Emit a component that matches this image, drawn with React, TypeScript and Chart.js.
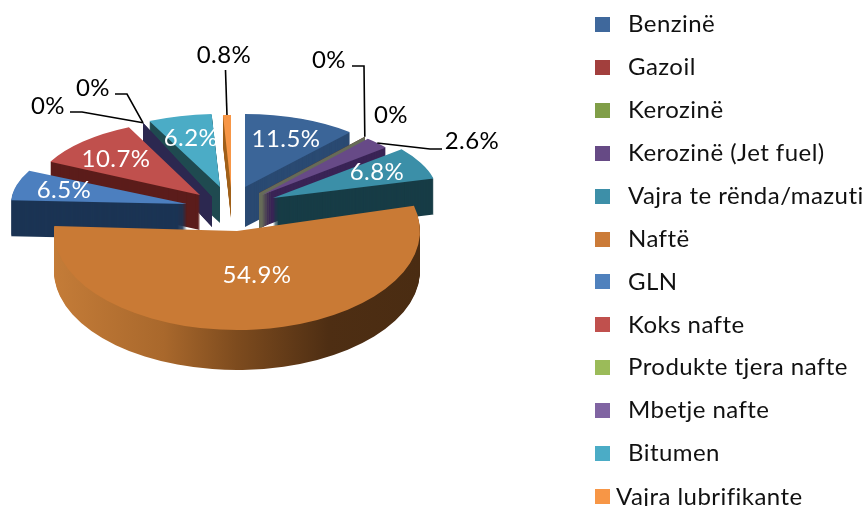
import React, { useEffect, useRef } from "react";
import { Chart, registerables } from "chart.js";

Chart.register(...registerables);

const categories = ["Benzinë", "Gazoil", "Kerozinë", "Kerozinë (Jet fuel)", "Vajra te rënda/mazuti", "Naftë", "GLN", "Koks nafte", "Produkte tjera nafte", "Mbetje nafte", "Bitumen", "Vajra lubrifikante"];
const shares = [11.5, 0, 0, 2.6, 6.8, 54.9, 6.5, 10.7, 0, 0, 6.2, 0.8];
const topColors = ["#3b6598", "#a03f3c", "#7f9d47", "#674a87", "#3b8fa8", "#c97a35", "#4c7fbf", "#c0504d", "#9bbb59", "#8064a2", "#4bacc6", "#f79646"];
const legendColors = ["#3f689c", "#a23f3d", "#809e48", "#664a85", "#3d8fa8", "#cb7b38", "#4f81bd", "#c0504d", "#9bbb59", "#8064a2", "#4bacc6", "#f79646"];
const wallColors = ["#2a4a72", "#5c1d1b", "#666b58", "#3a2456", "#173c46", "#000", "#1b3454", "#5c1d1b", "#2c2850", "#2c2850", "#1f4a50", "#a0601c"];

// 3D projection per slice: tip x, tip y, x radius, y radius, wall depth
const projection = [
  [245, 187, 159, 73, 40],
  [259, 193, 160, 75, 36],
  [259, 193, 160, 75, 36],
  [262, 195, 160, 75, 32],
  [273, 198, 166, 77, 36],
  [237, 231, 183, 99, 40],
  [187, 204, 176, 75, 36],
  [200, 195, 167, 75, 35],
  [212, 197, 162, 82, 30],
  [212, 197, 162, 82, 30],
  [220, 187, 166, 73, 36],
  [231, 188, 160, 73, 30],
];
const paintOrder = [11, 10, 8, 9, 7, 6, 0, 1, 2, 3, 4, 5];
const FONT = "Lato";
const FONT_SIZE = 24;

// label centre (x, y), text colour, optional leader elbow points
const labelLayout: Record<number, { x: number; y: number; color: string; leader?: number[][] }> = {
  0: { x: 286, y: 139, color: "#fff" },
  1: { x: 329, y: 60, color: "#000", leader: [[352, 66], [364, 66]] },
  2: { x: 391, y: 115, color: "#000" },
  3: { x: 472, y: 141, color: "#000", leader: [[442, 149], [430, 149]] },
  4: { x: 377, y: 172, color: "#fff" },
  5: { x: 257, y: 275, color: "#fff" },
  6: { x: 64, y: 190, color: "#fff" },
  7: { x: 116, y: 159, color: "#fff" },
  8: { x: 48, y: 106, color: "#000", leader: [[70, 112], [82, 112]] },
  9: { x: 93, y: 88, color: "#000", leader: [[115, 94], [127, 94]] },
  10: { x: 191, y: 138, color: "#fff" },
  11: { x: 224, y: 55, color: "#000", leader: [[225.5, 70]] },
};

const rimPoint = (el: any, i: number) => {
  const [tx, ty, rx, ry] = projection[i];
  const mid = (el.startAngle + el.endAngle) / 2;
  return [tx + Math.cos(mid) * rx, ty + Math.sin(mid) * ry];
};

const pie3d = {
  id: "pie3d",
  beforeDatasetsDraw(chart: any) {
    const ctx = chart.ctx;
    const arcs = chart.getDatasetMeta(0).data;
    for (const i of paintOrder) {
      const el = arcs[i];
      const [tx, ty, rx, ry, depth] = projection[i];
      const R = el.outerRadius;
      if (shares[i] === 0) {
        const [ex, ey] = rimPoint(el, i);
        ctx.fillStyle = wallColors[i];
        ctx.beginPath();
        ctx.moveTo(tx, ty);
        ctx.lineTo(ex, ey);
        ctx.lineTo(ex, ey + depth);
        ctx.lineTo(tx, ty + depth);
        ctx.closePath();
        ctx.fill();
        continue;
      }
      let wall: any = wallColors[i];
      if (i === 5) {
        wall = ctx.createLinearGradient(tx - rx, 0, tx + rx, 0);
        wall.addColorStop(0, "#c47c38");
        wall.addColorStop(0.3, "#a9682c");
        wall.addColorStop(0.5, "#7d4b1e");
        wall.addColorStop(0.75, "#4e2e13");
        wall.addColorStop(1, "#4a2c12");
      }
      for (let d = depth; d >= 1; d--) {
        ctx.save();
        ctx.translate(tx, ty + d);
        ctx.scale(rx / R, ry / R);
        ctx.beginPath();
        ctx.moveTo(0, 0);
        ctx.arc(0, 0, R, el.startAngle, el.endAngle);
        ctx.closePath();
        ctx.restore();
        ctx.fillStyle = wall;
        ctx.fill();
      }
      ctx.save();
      ctx.translate(tx, ty);
      ctx.scale(rx / R, ry / R);
      ctx.translate(-el.x, -el.y);
      el.draw(ctx);
      ctx.restore();
    }
    return false;
  },
  afterDraw(chart: any) {
    const ctx = chart.ctx;
    const arcs = chart.getDatasetMeta(0).data;
    ctx.save();
    ctx.font = `${FONT_SIZE}px ${FONT}`;
    ctx.letterSpacing = "0.45px";
    ctx.textBaseline = "middle";
    ctx.textAlign = "center";
    shares.forEach((v, i) => {
      const l = labelLayout[i];
      if (l.leader) {
        const [ex, ey] = rimPoint(arcs[i], i);
        ctx.strokeStyle = "#000";
        ctx.lineWidth = 1.6;
        ctx.beginPath();
        l.leader.forEach((p, k) => (k ? ctx.lineTo(p[0], p[1]) : ctx.moveTo(p[0], p[1])));
        ctx.lineTo(ex, ey);
        ctx.stroke();
      }
      ctx.fillStyle = l.color;
      ctx.fillText(`${v}%`, l.x, l.y);
    });
    // legend
    ctx.textAlign = "left";
    categories.forEach((name, i) => {
      const last = i === categories.length - 1;
      const y = 24.5 + i * 42.9;
      ctx.fillStyle = legendColors[i];
      ctx.fillRect(595, Math.round(y - 7.5), 15, 15);
      ctx.fillStyle = "#111";
      ctx.fillText(name, last ? 616 : 628, y + (last ? 1 : 0));
    });
    ctx.restore();
  },
};

export default function App() {
  const ref = useRef<HTMLCanvasElement>(null);
  useEffect(() => {
    const chart = new Chart(ref.current!, {
      type: "pie",
      data: {
        labels: categories,
        datasets: [{ data: shares, backgroundColor: topColors, borderWidth: 0, clip: false } as any],
      },
      options: {
        animation: false,
        responsive: false,
        plugins: { legend: { display: false }, tooltip: { enabled: false } },
      },
      plugins: [pie3d],
    } as any);
    return () => chart.destroy();
  }, []);
  return (
    <div style={{ position: "absolute", left: 0, top: 0, width: 867, height: 506, background: "#fff" }}>
      <canvas ref={ref} width={867} height={506} style={{ display: "block" }} />
    </div>
  );
}
